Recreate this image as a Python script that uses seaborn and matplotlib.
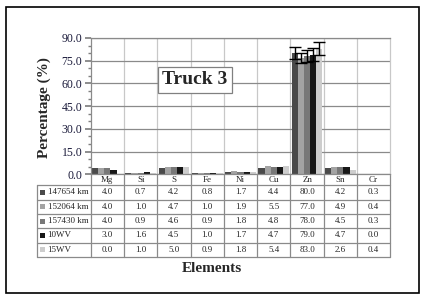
import matplotlib
matplotlib.use("Agg")
import matplotlib.pyplot as plt
import matplotlib.transforms as mtransforms
from matplotlib.patches import Rectangle
from matplotlib.lines import Line2D
from matplotlib.ticker import MultipleLocator, FormatStrFormatter
import seaborn as sns
import pandas as pd
import numpy as np

# Données
elements = ["Mg", "Si", "S", "Fe", "Ni", "Cu", "Zn", "Sn", "Cr"]
series = ["147654 km", "152064 km", "157430 km", "10WV", "15WV"]
v_147654 = [4.0, 0.7, 4.2, 0.8, 1.7, 4.4, 80.0, 4.2, 0.3]
v_152064 = [4.0, 1.0, 4.7, 1.0, 1.9, 5.5, 77.0, 4.9, 0.4]
v_157430 = [4.0, 0.9, 4.6, 0.9, 1.8, 4.8, 78.0, 4.5, 0.3]
v_10wv = [3.0, 1.6, 4.5, 1.0, 1.7, 4.7, 79.0, 4.7, 0.0]
v_15wv = [0.0, 1.0, 5.0, 0.9, 1.8, 5.4, 83.0, 2.6, 0.4]
# barres d'erreur (visibles seulement sur Zn)
err_zn = [4.0, 3.2, 3.8, 4.2, 4.4]
colors = ["#4a4a4a", "#a3a3a3", "#787878", "#171717", "#cdcdcd"]

values = [v_147654, v_152064, v_157430, v_10wv, v_15wv]
df = pd.DataFrame({
    "Element": elements * len(series),
    "Serie": [s for s in series for _ in elements],
    "Pct": np.concatenate(values),
})

sns.set_theme(style="white")
plt.rcParams["font.family"] = ["Liberation Serif", "DejaVu Serif"]

W, H = 423, 296
fig = plt.figure(figsize=(W / 100, H / 100), dpi=100)
ax_l, ax_r, ax_t, ax_b = 90.7, 390.3, 38.0, 174.3
ax = fig.add_axes([ax_l / W, 1 - ax_b / H, (ax_r - ax_l) / W, (ax_b - ax_t) / H])

sns.barplot(data=df, x="Element", y="Pct", hue="Serie", order=elements,
            hue_order=series, palette=colors, width=0.92, errorbar=None,
            legend=False, ax=ax, saturation=1, linewidth=0)

# barres d'erreur sur Zn
zn = elements.index("Zn")
zn_bars = sorted([p for p in ax.patches
                  if abs(p.get_x() + p.get_width() / 2 - zn) < 0.5],
                 key=lambda p: p.get_x())
for bar, e in zip(zn_bars, err_zn):
    xc = bar.get_x() + bar.get_width() / 2
    ax.errorbar(xc, bar.get_height(), yerr=e, color="black",
                capsize=4.2, capthick=1, elinewidth=1, zorder=5)

ax.set_xlim(-0.5, len(elements) - 0.5)
ax.set_ylim(0, 90)
ax.yaxis.set_major_locator(MultipleLocator(15))
ax.yaxis.set_minor_locator(MultipleLocator(5))
ax.yaxis.set_major_formatter(FormatStrFormatter("%.1f"))
ax.tick_params(axis="y", which="major", left=True, length=4, color="#808080",
               labelsize=8.5, labelcolor="#1a1a3a", pad=2)
ax.tick_params(axis="y", which="minor", left=True, length=2.5, color="#808080")
ax.set_xticks([])
ax.set_xlabel("")
ax.set_ylabel("")
ax.grid(axis="y", color="#8a8a8a", lw=0.9)
for x in np.arange(0.5, len(elements) - 0.5):
    ax.axvline(x, color="#c8c8c8", lw=0.9, zorder=0)
ax.set_axisbelow(True)
for side in ["left", "bottom", "top"]:
    ax.spines[side].set_color("#8a8a8a")
ax.spines["right"].set_color("#c8c8c8")
for s in ax.spines.values():
    s.set_linewidth(0.9)

# tableau de données sous l'axe
trans = mtransforms.blended_transform_factory(ax.transData, ax.transAxes)
h_px = ax_b - ax_t
col_w = (ax_r - ax_l) / len(elements)
x_left = -0.5 - (ax_l - 37) / col_w
x_right = len(elements) - 0.5
head_h, row_h = 11.0, 14.3
ys = [0, -head_h / h_px] + [-(head_h + row_h * (k + 1)) / h_px for k in range(len(series))]
line_kw = dict(color="#8a8a8a", lw=0.9, transform=trans, clip_on=False)
for k, y in enumerate(ys[1:]):
    ax.add_line(Line2D([x_left, x_right], [y, y], **line_kw))
ax.add_line(Line2D([x_left, x_left], [ys[1], ys[-1]], **line_kw))
for x in np.arange(-0.5, len(elements)):
    ax.add_line(Line2D([x, x], [0, ys[-1]], **line_kw))

for j, el in enumerate(elements):
    ax.text(j, (ys[0] + ys[1]) / 2, el, transform=trans, ha="center", va="center",
            fontsize=6.5, clip_on=False)
for k, name in enumerate(series):
    yc = (ys[k + 1] + ys[k + 2]) / 2
    for j in range(len(elements)):
        ax.text(j, yc, f"{values[k][j]:.1f}", transform=trans, ha="center",
                va="center", fontsize=6.5, clip_on=False)
    # carré de légende
    sq = 5.0
    fig.patches.append(Rectangle((39.5 / W, 1 - (ax_b + (-yc) * h_px + sq / 2) / H),
                                 sq / W, sq / H, transform=fig.transFigure,
                                 facecolor=colors[k], edgecolor="none"))
    fig.text(47.5 / W, 1 - (ax_b + (-yc) * h_px) / H, name, ha="left",
             va="center", fontsize=6.5)

# titre encadré
fig.text(195 / W, 1 - 80 / H, "Truck 3", ha="center", va="center",
         fontsize=14, fontweight="bold",
         bbox=dict(boxstyle="square,pad=0.25", fc="white", ec="#808080", lw=0.9))

fig.text(44 / W, 1 - 108 / H, "Percentage (%)", rotation=90, ha="center",
         va="center", fontsize=11, fontweight="bold")
fig.text(211.5 / W, 1 - 268 / H, "Elements", ha="center", va="center",
         fontsize=11, fontweight="bold")

# cadre extérieur
fig.patches.append(Rectangle((5.5 / W, 1 - 293 / H), 413 / W, 286 / H,
                             transform=fig.transFigure, fill=False,
                             edgecolor="black", lw=1.2))

fig.savefig("out.png", dpi=100)
